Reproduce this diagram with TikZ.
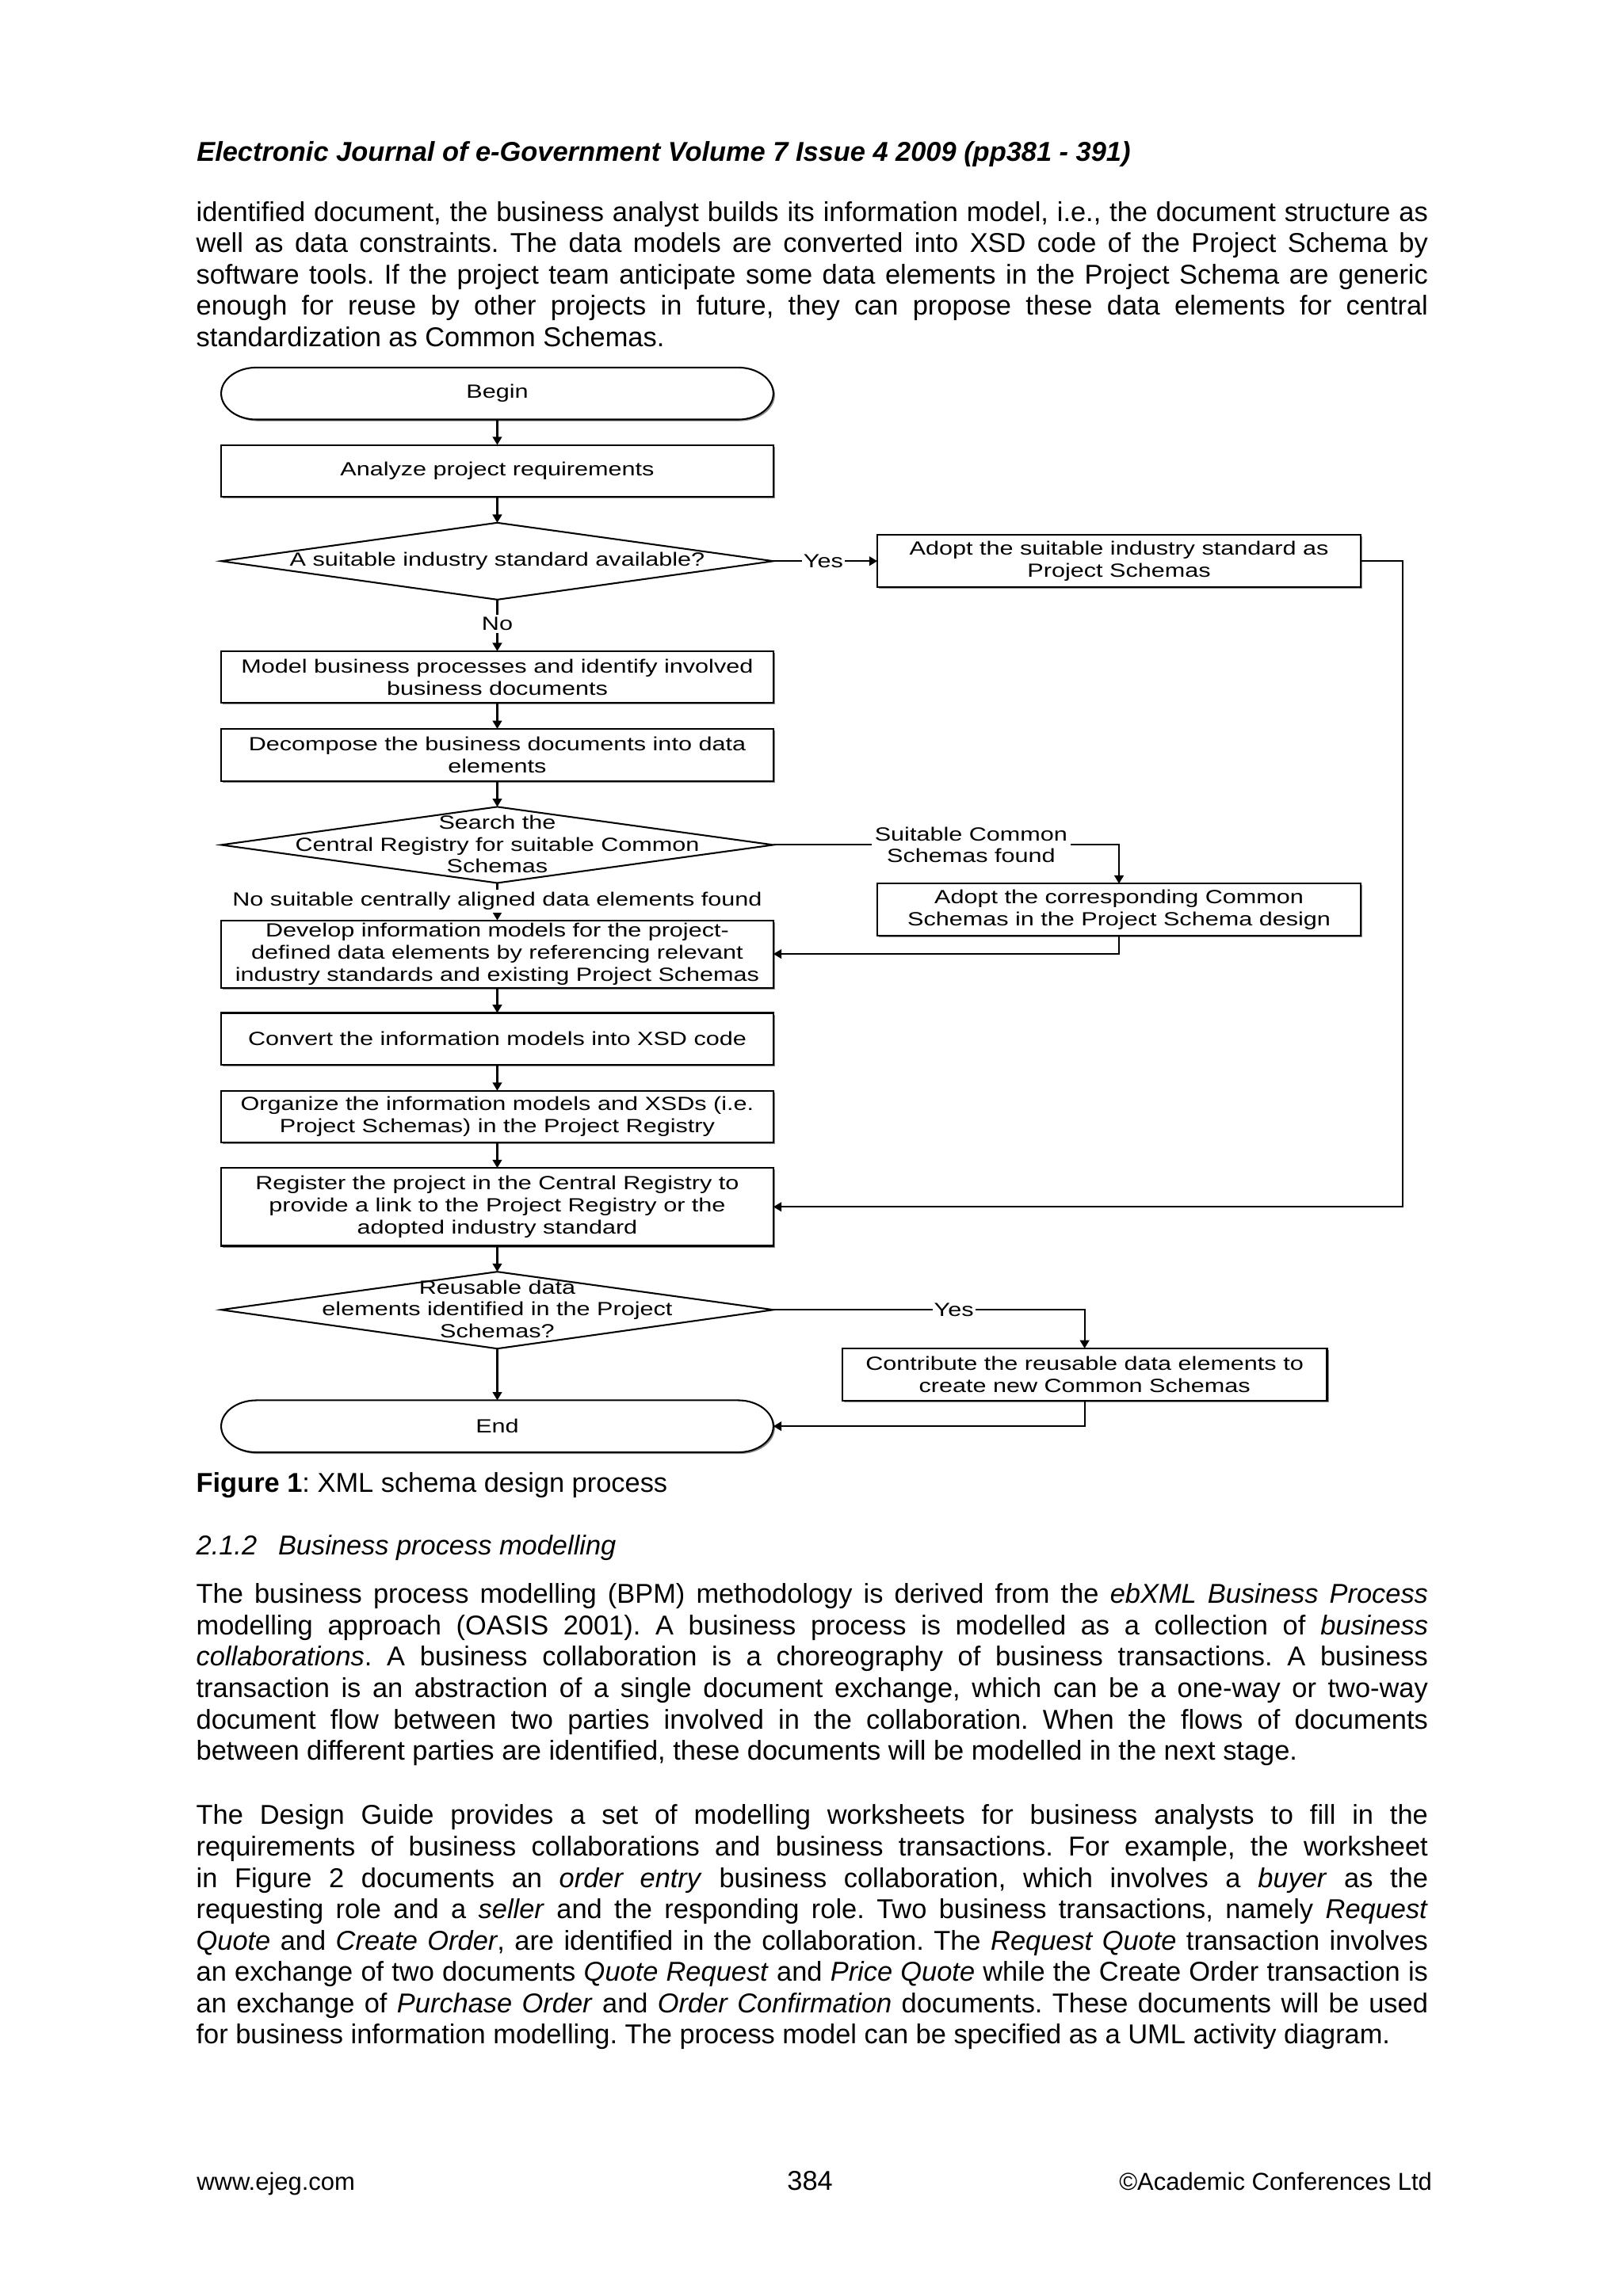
\documentclass[tikz,border=0pt]{standalone}
\usepackage{fontspec}
\setmainfont{Liberation Sans}
\newfontfamily\fcfont[FakeStretch=1.27]{Liberation Sans}
\usetikzlibrary{arrows.meta,calc,shadows}
\frenchspacing
\def\pxu{0.53727pt}
\newlength\bodyw
\setlength\bodyw{451.85pt}
\newcommand\jline[3]{\node[anchor=base west,inner sep=0pt,outer sep=0pt] (#1) at (134,#2) {\makebox[\bodyw][s]{#3}};}
\newcommand\lline[3]{\node[anchor=base west,inner sep=0pt,outer sep=0pt] (#1) at (134,#2) {#3};}
\newcommand\stadiumpath[4]{%
  ({#1+24},#2) -- ({#3-24},#2)
    .. controls ({#3-10.75},#2) and (#3,{(#2+#4)/2-9.7}) .. (#3,{(#2+#4)/2})
    .. controls (#3,{(#2+#4)/2+9.7}) and ({#3-10.75},#4) .. ({#3-24},#4)
    -- ({#1+24},#4)
    .. controls ({#1+10.75},#4) and (#1,{(#2+#4)/2+9.7}) .. (#1,{(#2+#4)/2})
    .. controls (#1,{(#2+#4)/2-9.7}) and ({#1+10.75},#2) .. ({#1+24},#2) -- cycle}
\newcommand\stadium[4]{%
  \fill[black!45,xshift=0.6pt,yshift=-0.6pt] \stadiumpath{#1}{#2}{#3}{#4};
  \filldraw[ln,fill=white] \stadiumpath{#1}{#2}{#3}{#4};}
\begin{document}
\begin{tikzpicture}[x=0.53727pt,y=-0.53727pt,
  fc/.style={font=\fcfont\fontsize{7}{8.06}\selectfont},
  ln/.style={line width=0.6pt},
  fcbox/.style={fc,draw,ln,fill=white,drop shadow={shadow xshift=0.6pt,shadow yshift=-0.6pt,fill=black!45,opacity=1},minimum width=377*\pxu,minimum height=35.5*\pxu,inner sep=0pt,outer sep=0pt,align=center},
  rbox/.style={fcbox,minimum width=330*\pxu},
  termbox/.style={fc,minimum width=377*\pxu,minimum height=35.5*\pxu,inner sep=0pt,outer sep=0pt},
  dtext/.style={fc,align=center,inner sep=0pt},
  lbl/.style={fc,fill=white,inner xsep=0.6pt,inner ysep=1pt,align=center},
  arr/.style={ln,-{Triangle[length=3pt,width=3.4pt]}},
]
\useasboundingbox (0,0) rectangle (1108,1568);
\fill[white] (0,0) rectangle (1108,1568);

% header
\node[anchor=base west,inner sep=0pt] (hdr) at (134,110) {\bfseries\itshape Electronic Journal of e-Government Volume 7 Issue 4 2009 (pp381 - 391)};

% paragraph 1
\jline{p1a}{151}{identified document, the business analyst builds its information model, i.e., the document structure as}
\jline{p1b}{172.4}{well as data constraints. The data models are converted into XSD code of the Project Schema by}
\jline{p1c}{193.8}{software tools. If the project team anticipate some data elements in the Project Schema are generic}
\jline{p1d}{215.2}{enough for reuse by other projects in future, they can propose these data elements for central}
\lline{p1e}{236.6}{standardization as Common Schemas.}

% ---------- flowchart ----------
\stadium{151}{251}{528}{286.5}
\node[termbox] (begin) at (339.5,268.7) {Begin};
\node[fcbox] (analyze) at (339.5,321.6) {Analyze project requirements};

\coordinate (d1l) at (151,383.2);
\coordinate (d1t) at (339.5,357);
\coordinate (d1r) at (528,383.2);
\coordinate (d1b) at (339.5,409.5);
\draw[ln] (d1l) -- (d1t) -- (d1r) -- (d1b) -- cycle;
\node[dtext] (d1x) at (339.5,383) {A suitable industry standard available?};

\node[rbox] (a1) at (764,383.2) {Adopt the suitable industry standard as\\Project Schemas};
\node[fcbox] (model) at (339.5,462.4) {Model business processes and identify involved\\business documents};
\node[fcbox] (decomp) at (339.5,515.5) {Decompose the business documents into data\\elements};

\coordinate (d2l) at (151,577);
\coordinate (d2t) at (339.5,551);
\coordinate (d2r) at (528,577);
\coordinate (d2b) at (339.5,603);
\draw[ln] (d2l) -- (d2t) -- (d2r) -- (d2b) -- cycle;
\node[dtext] (d2x) at (339.5,576.5) {Search the\\Central Registry for suitable Common\\Schemas};

\node[rbox] (a2) at (764,621.2) {Adopt the corresponding Common\\Schemas in the Project Schema design};
\node[fcbox,minimum height=46*\pxu] (develop) at (339.5,651.5) {Develop information models for the project-\\defined data elements by referencing relevant\\industry standards and existing Project Schemas};
\node[fcbox] (convert) at (339.5,709.5) {Convert the information models into XSD code};
\node[fcbox] (organize) at (339.5,762.6) {Organize the information models and XSDs (i.e.\\Project Schemas) in the Project Registry};
\node[fcbox,minimum height=53.2*\pxu] (register) at (339.5,824.2) {Register the project in the Central Registry to\\provide a link to the Project Registry or the\\adopted industry standard};

\coordinate (d3l) at (151,894.5);
\coordinate (d3t) at (339.5,868.5);
\coordinate (d3r) at (528,894.5);
\coordinate (d3b) at (339.5,921);
\draw[ln] (d3l) -- (d3t) -- (d3r) -- (d3b) -- cycle;
\node[dtext] (d3x) at (339.5,894) {Reusable data\\elements identified in the Project\\Schemas?};

\node[rbox,minimum width=331*\pxu] (contrib) at (740.5,938.6) {Contribute the reusable data elements to\\create new Common Schemas};
\stadium{151}{956.3}{528}{991.8}
\node[termbox] (end) at (339.5,974) {End};

\coordinate (c1) at (957.5,383.2);
\coordinate (c2) at (764,577);
\coordinate (c3) at (740.5,894.5);

% connectors
\draw[arr] (begin) -- (analyze);
\draw[arr] (analyze) -- (d1t);
\draw[arr] (d1r) -- node[lbl,pos=0.48] (yes1) {Yes} (a1.west);
\draw[arr] (a1.east) -- (c1) |- (register.east);
\draw[arr] (d1b) -- node[lbl,pos=0.47] (no1) {No} (model);
\draw[arr] (model) -- (decomp);
\draw[arr] (decomp) -- (d2t);
\draw[arr] (d2r) -- node[lbl,pos=0.572,inner xsep=1.2pt] (scs) {Suitable Common\\Schemas found} (c2) -- (a2.north);
\draw[arr] (a2.south) |- (develop.east);
\draw[arr] (d2b) -- node[lbl,pos=0.49] (nosuit) {No suitable centrally aligned data elements found} (develop);
\draw[arr] (develop) -- (convert);
\draw[arr] (convert) -- (organize);
\draw[arr] (organize) -- (register);
\draw[arr] (register) -- (d3t);
\draw[arr] (d3r) -- node[lbl,pos=0.58] (yes3) {Yes} (c3) -- (contrib.north);
\draw[arr] (contrib.south) |- (end.east);
\draw[arr] (d3b) -- (end);

% caption and section
\lline{cap}{1019}{\textbf{Figure 1}: XML schema design process}
\lline{sec}{1062}{\itshape 2.1.2\hspace{7.8pt}Business process modelling}

% paragraph 2
\jline{p2a}{1095}{The business process modelling (BPM) methodology is derived from the \textit{ebXML Business Process}}
\jline{p2b}{1116.4}{modelling approach (OASIS 2001). A business process is modelled as a collection of \textit{business}}
\jline{p2c}{1137.8}{\textit{collaborations}. A business collaboration is a choreography of business transactions. A business}
\jline{p2d}{1159.2}{transaction is an abstraction of a single document exchange, which can be a one-way or two-way}
\jline{p2e}{1180.6}{document flow between two parties involved in the collaboration. When the flows of documents}
\lline{p2f}{1202}{between different parties are identified, these documents will be modelled in the next stage.}

% paragraph 3
\jline{p3a}{1246}{The Design Guide provides a set of modelling worksheets for business analysts to fill in the}
\jline{p3b}{1267.4}{requirements of business collaborations and business transactions. For example, the worksheet}
\jline{p3c}{1288.8}{in Figure 2 documents an \textit{order entry} business collaboration, which involves a \textit{buyer} as the}
\jline{p3d}{1310.2}{requesting role and a \textit{seller} and the responding role. Two business transactions, namely \textit{Request}}
\jline{p3e}{1331.6}{\textit{Quote} and \textit{Create Order}, are identified in the collaboration. The \textit{Request Quote} transaction involves}
\jline{p3f}{1353}{an exchange of two documents \textit{Quote Request} and \textit{Price Quote} while the Create Order transaction is}
\jline{p3g}{1374.4}{an exchange of \textit{Purchase Order} and \textit{Order Confirmation} documents. These documents will be used}
\lline{p3h}{1395.8}{for business information modelling. The process model can be specified as a UML activity diagram.}

% footer
\node[anchor=base west,inner sep=0pt,font=\fontsize{9}{11}\selectfont] (fl) at (134,1496) {www.ejeg.com};
\node[anchor=base,inner sep=0pt] (fc) at (553,1496) {384};
\node[anchor=base east,inner sep=0pt,font=\fontsize{9}{11}\selectfont] (fr) at (978,1496) {\textcopyright Academic Conferences Ltd};
\end{tikzpicture}
\end{document}
